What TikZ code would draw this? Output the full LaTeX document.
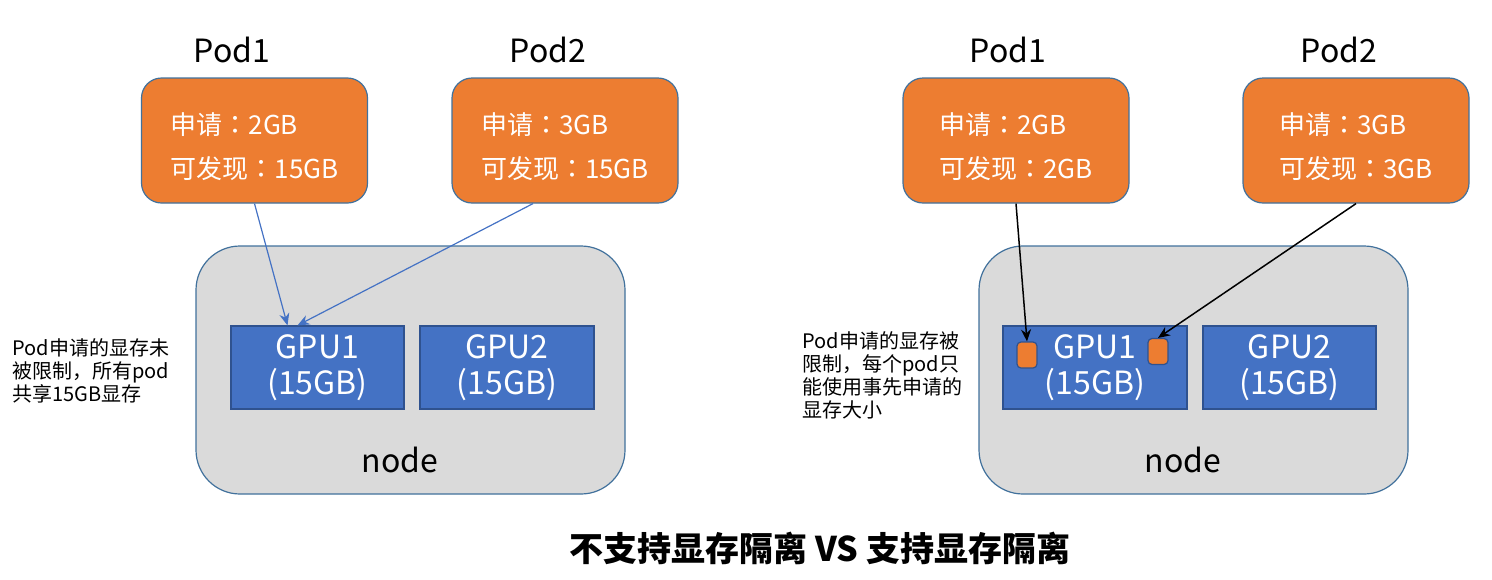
\documentclass[tikz,border=0pt]{standalone}
\usepackage{fontspec}
\setmainfont{Noto Sans CJK SC}
\newfontfamily\tcfont{Noto Sans CJK TC}
\usepackage{xcolor}
\usetikzlibrary{calc, positioning, arrows.meta}

\definecolor{podorange}{HTML}{ED7D31}
\definecolor{gpublue}{HTML}{4472C4}
\definecolor{gpuline}{HTML}{2F528F}
\definecolor{boxline}{HTML}{41719C}
\definecolor{nodegray}{HTML}{DADADA}

% centred full-width colon
\newcommand{\podcolon}{{\tcfont ：}}

\begin{document}
\begin{tikzpicture}[x=0.5pt, y=-0.5pt, >={Stealth[length=6pt, width=5pt]}]
    \tikzset{
        podbox/.style={draw=boxline, fill=podorange, rounded corners=10pt,
            minimum width=113pt, minimum height=62.5pt, line width=0.6pt},
        podtext/.style={text=white, align=left, inner sep=0pt,
            font=\fontsize{13pt}{22pt}\selectfont},
        podlabel/.style={font=\fontsize{16pt}{18pt}\selectfont},
        hostbox/.style={draw=boxline, fill=nodegray, rounded corners=22pt,
            minimum width=214.5pt, minimum height=124pt, line width=0.6pt},
        gpubox/.style={draw=gpuline, fill=gpublue, minimum height=41.5pt,
            line width=0.6pt, text=white, align=center,
            font=\fontsize{16pt}{18pt}\selectfont},
        memblock/.style={draw=gpuline, fill=podorange, rounded corners=2pt,
            minimum width=10pt, minimum height=13pt, inner sep=0pt, line width=0.6pt},
        note/.style={anchor=west, inner sep=0pt, align=left,
            font=\fontsize{10pt}{11.5pt}\selectfont},
        blue arrow/.style={->, draw=gpublue, line width=0.6pt},
        black arrow/.style={->, draw=black, line width=0.75pt}
    }

    \useasboundingbox (0,0) rectangle (1492,579);

    % left: no isolation
    \node[hostbox] (lhost) at (410.5,370) {};
    \node[font=\fontsize{16pt}{18pt}\selectfont] (lhostname) at (400,460) {node};
    \node[gpubox, minimum width=86.5pt] (lg1) at (317.5,367.5) {GPU1\\(15GB)};
    \node[gpubox, minimum width=87pt] (lg2) at (507,367.5) {GPU2\\(15GB)};

    \node[podbox] (lp1) at (254.5,140.5) {};
    \node[podbox] (lp2) at (565,140.5) {};
    \node[podtext] (lp1text) at ($(lp1)+(0,6)$) {申请\podcolon 2GB\\可发现\podcolon 15GB};
    \node[podtext] (lp2text) at ($(lp2)+(0,6)$) {申请\podcolon 3GB\\可发现\podcolon 15GB};
    \node[podlabel] (lp1name) at (232,50) {Pod1};
    \node[podlabel] (lp2name) at (548,50) {Pod2};

    \draw[blue arrow] (lp1.south) -- ($(lg1.north)+(-30,0)$);
    \draw[blue arrow] ($(lp2.south)+(-32,0)$) -- ($(lg1.north)+(-20,0)$);

    \node[note] (lnote) at (12,371) {Pod申请的显存未\\被限制，所有pod\\共享15GB显存};

    % right: isolation
    \node[hostbox] (rhost) at (1193.5,370) {};
    \node[font=\fontsize{16pt}{18pt}\selectfont] (rhostname) at (1183,460) {node};
    \node[gpubox, minimum width=92pt] (rg1) at (1095,367.5) {GPU1\\(15GB)};
    \node[gpubox, minimum width=86.5pt] (rg2) at (1289.5,367.5) {GPU2\\(15GB)};
    \node[memblock] (sq1) at (1027,355) {};
    \node[memblock] (sq2) at (1158,351.5) {};

    \node[podbox] (rp1) at (1016,140.5) {};
    \node[podbox] (rp2) at (1356,140.5) {};
    \node[podtext] (rp1text) at ($(rp1)+(0,6)$) {申请\podcolon 2GB\\可发现\podcolon 2GB};
    \node[podtext] (rp2text) at ($(rp2)+(0,6)$) {申请\podcolon 3GB\\可发现\podcolon 3GB};
    \node[podlabel] (rp1name) at (1008,50) {Pod1};
    \node[podlabel] (rp2name) at (1339,50) {Pod2};

    \draw[black arrow] (rp1.south) -- (sq1.north);
    \draw[black arrow] (rp2.south) -- (sq2.north);

    \node[note] (rnote) at (802,375.5) {Pod申请的显存被\\限制，每个pod只\\能使用事先申请的\\显存大小};

    \node[font=\fontsize{17pt}{20pt}\selectfont\bfseries] (title) at (820,548) {不支持显存隔离 VS 支持显存隔离};
\end{tikzpicture}
\end{document}
